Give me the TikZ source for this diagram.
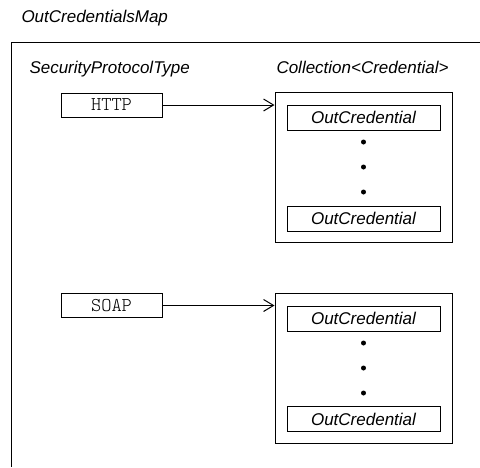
\documentclass[tikz,border=0pt]{standalone}
\usepackage{fontspec}
\setmainfont{Liberation Sans}
\setmonofont{Latin Modern Mono Light}
\usetikzlibrary{arrows.meta}

\begin{document}
\begin{tikzpicture}[x=1pt, y=-1pt, font=\fontsize{17}{20}\selectfont\itshape,
  line width=1pt,
  lbl/.style={anchor=base west, inner sep=0pt},
  key/.style={draw, minimum width=101pt, minimum height=24pt, inner sep=0pt, font=\fontsize{19.5}{20}\selectfont\ttfamily},
  coll/.style={draw, minimum width=177pt, minimum height=150pt, inner sep=0pt},
  cred/.style={draw, minimum width=153pt, minimum height=25pt, inner sep=0pt},
  dot/.style={circle, fill, inner sep=0pt, minimum size=5pt},
  a/.style={-{Straight Barb[length=10pt, width=12pt]}}]
 \useasboundingbox (0,0) rectangle (480,467);
 % map frame (cut off at right and bottom)
 \node[lbl] (title) at (21,22) {OutCredentialsMap};
 \draw (480,42) -- (11.5,42) -- (11.5,467);
 \node[lbl] (keyhdr) at (29,73) {SecurityProtocolType};
 \node[lbl] (valhdr) at (276,73) {Collection<Credential>};
 % HTTP entry
 \node[key] (http) at (111.5,105) {HTTP};
 \node[coll] (coll1) at (363.5,167) {};
 \node[cred] (cred1a) at (363.5,117.5) {OutCredential};
 \node[dot] (d1a) at (363.5,142) {};
 \node[dot] (d1b) at (363.5,167) {};
 \node[dot] (d1c) at (363.5,192) {};
 \node[cred] (cred1b) at (363.5,218.5) {OutCredential};
 \draw[a] (http) -- (http -| coll1.west);
 % SOAP entry
 \node[key] (soap) at (111.5,305.5) {SOAP};
 \node[coll] (coll2) at (363.5,368) {};
 \node[cred] (cred2a) at (363.5,318.5) {OutCredential};
 \node[dot] (d2a) at (363.5,343) {};
 \node[dot] (d2b) at (363.5,368) {};
 \node[dot] (d2c) at (363.5,393) {};
 \node[cred] (cred2b) at (363.5,419) {OutCredential};
 \draw[a] (soap) -- (soap -| coll2.west);
\end{tikzpicture}
\end{document}
